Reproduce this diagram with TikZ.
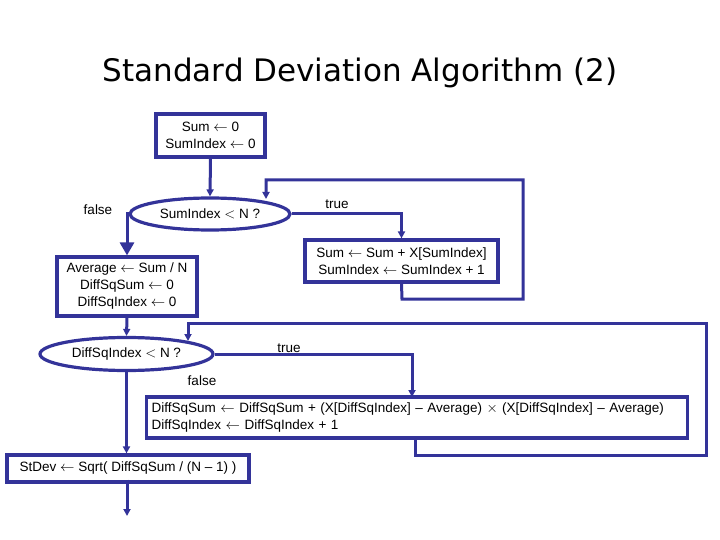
\documentclass[tikz,border=0pt]{standalone}
\usepackage{fontspec}
\setmainfont{Liberation Sans}
\newfontfamily\titlefont{DejaVu Sans}
\usetikzlibrary{shapes.geometric,arrows.meta}
\definecolor{fc}{RGB}{51,51,153}
\begin{document}
\begin{tikzpicture}[x=1pt,y=-1pt,
  box/.style={draw=fc,line width=3.2pt,rectangle,inner sep=0pt,font=\fontsize{13.5}{17}\selectfont,align=center},
  oval/.style={draw=fc,line width=3.2pt,ellipse,inner sep=0pt,font=\fontsize{13.5}{17}\selectfont},
  conn/.style={draw=fc,line width=3pt,-{Triangle[length=7pt,width=7pt]}},
  plain/.style={draw=fc,line width=3pt},
  lab/.style={font=\fontsize{13.5}{17}\selectfont,text=black}]
\useasboundingbox (0,0) rectangle (720,540);
\node[font=\titlefont\fontsize{31}{36}\selectfont] (title) at (360,73) {Standard Deviation Algorithm (2)};
\node[box,minimum width=109pt,minimum height=43pt] (b1) at (210.5,135.5) {Sum $\leftarrow$ 0\\SumIndex $\leftarrow$ 0};
\node[oval,minimum width=160pt,minimum height=32pt] (e1) at (210,214) {SumIndex $<$ N ?};
\node[box,minimum width=193pt,minimum height=42pt] (b2) at (401.5,261) {Sum $\leftarrow$ Sum + X[SumIndex]\\SumIndex $\leftarrow$ SumIndex + 1};
\node[box,minimum width=140pt,minimum height=59pt] (b3) at (127,286.5) {Average $\leftarrow$ Sum / N\\DiffSqSum $\leftarrow$ 0\\DiffSqIndex $\leftarrow$ 0};
\node[oval,minimum width=173pt,minimum height=33pt] (e2) at (126.5,354) {DiffSqIndex $<$ N ?};
\node[box,text width=531pt,minimum height=41pt,align=left,anchor=west,inner xsep=5pt] (b4) at (145,417.5) {DiffSqSum $\leftarrow$ DiffSqSum + (X[DiffSqIndex] -- Average) $\times$ (X[DiffSqIndex] -- Average)\\DiffSqIndex $\leftarrow$ DiffSqIndex + 1};
\node[box,minimum width=242pt,minimum height=27pt] (b5) at (128,468.5) {StDev $\leftarrow$ Sqrt( DiffSqSum / (N -- 1) )};
\coordinate (end) at (127,516);
\node[lab] (f1) at (98,210) {false};
\node[lab] (t1) at (337,204) {true};
\node[lab] (t2) at (289,348) {true};
\node[lab] (f2) at (202,381) {false};
% connectors
\draw[conn] (b1.south) -- (e1.north);
\draw[conn] (e1.east) -| (b2.north);
\draw[conn] (b2.south) -- (402,299) -- (523,299) -- (523,180) -- (266,180) -- (266,199);
\draw[plain] (e1.west) -- (127,214);
\draw[draw=fc,line width=3pt,-{Triangle[length=13pt,width=14pt]}] (127,212.5) -- (b3.north);
\draw[conn] (b3.south) -- (e2.north);
\draw[conn] (e2.east) -| (412,397);
\draw[conn] (415,438) -- (415,455) -- (706,455) -- (706,323) -- (188,323) -- (188,341);
\draw[conn] (e2.south) -- (b5.north -| e2.south);
\draw[conn] ([yshift=4pt]b5.south -| end) -- (end);
\end{tikzpicture}
\end{document}
